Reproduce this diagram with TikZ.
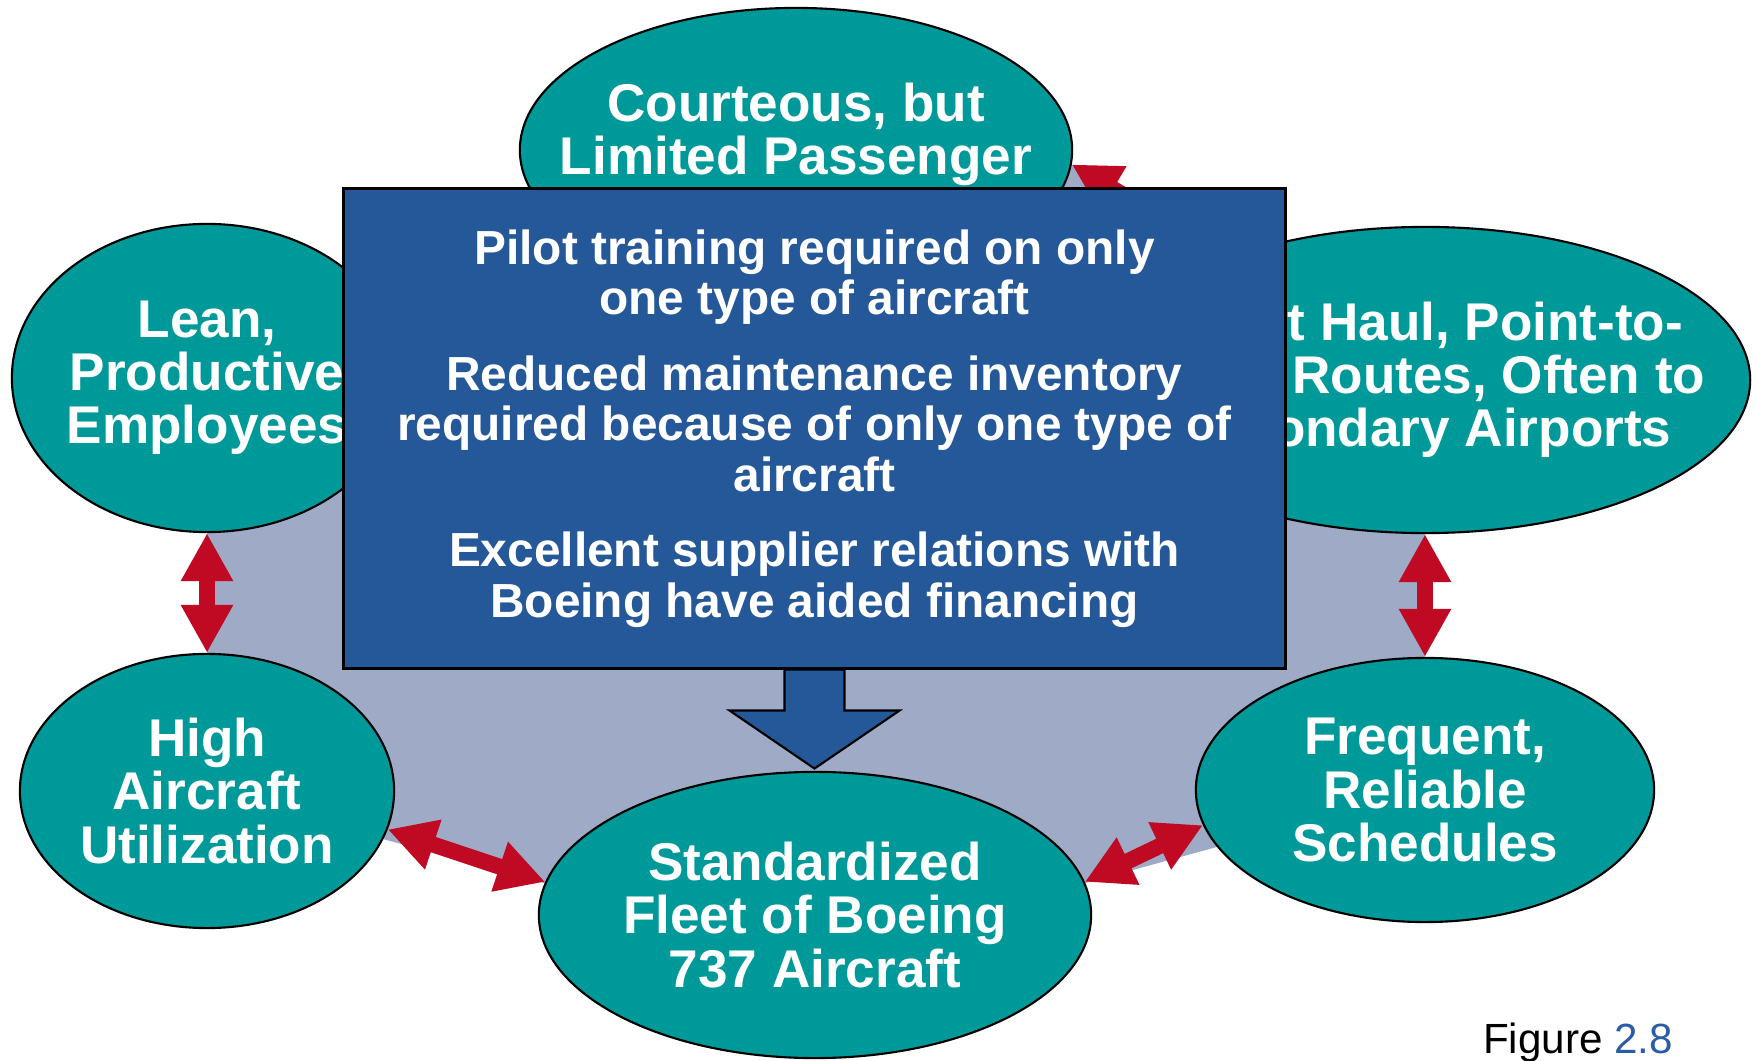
\documentclass[tikz,border=0pt]{standalone}
\usepackage{fontspec}
\setmainfont{Liberation Sans}
\usetikzlibrary{shapes.geometric, arrows.meta}

\definecolor{tealfill}{RGB}{0,153,153}
\definecolor{planblue}{RGB}{37,88,152}
\definecolor{backgray}{RGB}{158,170,198}
\definecolor{linkred}{RGB}{192,10,35}
\definecolor{figblue}{RGB}{42,92,168}

\begin{document}
\begin{tikzpicture}[
    x=0.01cm, y=-0.01cm,
    oval/.style={draw, line width=0.6pt, fill=tealfill, shape=ellipse, inner sep=0pt},
    ovaltext/.style={text=white, font=\fontsize{15.1}{15.1}\selectfont\bfseries, align=center, inner sep=0pt},
    plan/.style={draw, line width=0.8pt, fill=planblue, text=white, font=\fontsize{13.6}{14.4}\selectfont\bfseries, align=center},
    twoway/.style={draw=linkred, line width=0.16cm, {Triangle[width=0.49cm, length=0.48cm]}-{Triangle[width=0.49cm, length=0.48cm]}},
    push/.style={draw, line width=0.6pt, fill=planblue},
    backdrop/.style={fill=backgray}
]
    \useasboundingbox (0, 0) rectangle (1754, 1061);

    % CENTRES OF THE OVALS
    \coordinate (c_courteous) at (796, 150);
    \coordinate (c_lean) at (207, 378);
    \coordinate (c_routes) at (1425, 380);
    \coordinate (c_high) at (207, 791);
    \coordinate (c_fleet) at (815, 915);
    \coordinate (c_sched) at (1425, 790);

    % BACKDROP behind the ovals
    \fill[backdrop] (c_lean) -- (900, 60) -- (c_routes) -- (c_sched) -- (815, 957) -- (c_high) -- cycle;

    % OVALS
    \node (courteous) at (c_courteous) [oval, minimum width=5.52cm, minimum height=2.84cm] {};
    \node (lean) at (c_lean) [oval, minimum width=3.9cm, minimum height=3.08cm] {};
    \node (routes) at (c_routes) [oval, minimum width=6.5cm, minimum height=3.06cm] {};
    \node (high) at (c_high) [oval, minimum width=3.74cm, minimum height=2.74cm] {};
    \node (fleet) at (c_fleet) [oval, minimum width=5.52cm, minimum height=2.86cm] {};
    \node (sched) at (c_sched) [oval, minimum width=4.58cm, minimum height=2.64cm] {};

    % TEXTS OF THE OVALS
    \node (courteous_txt) at (796, 156) [ovaltext] {Courteous, but\\Limited Passenger\\Service};
    \node (lean_txt) at (lean) [ovaltext] {Lean,\\Productive\\Employees};
    \node (routes_txt) at (routes) [ovaltext] {Short Haul, Point-to-\\Point Routes, Often to\\Secondary Airports};
    \node (high_txt) at (high) [ovaltext] {High\\Aircraft\\Utilization};
    \node (fleet_txt) at (fleet) [ovaltext] {Standardized\\Fleet of Boeing\\737 Aircraft};
    \node (sched_txt) at (sched) [ovaltext] {Frequent,\\Reliable\\Schedules};

    % Links between the ovals
    \draw[twoway] (lean) -- (high);
    \draw[twoway] (routes) -- (sched);
    \draw[twoway] (high.-12) -- (fleet.173);
    \draw[twoway] (fleet.7) -- (sched.189);
    \draw[twoway] (courteous.-3) -- (routes.148);

    % CENTRAL BOX
    \node (plan) at (814.5, 428.5) [plan, minimum width=9.41cm, minimum height=4.79cm] {Pilot training required on only\\one type of aircraft\\[7pt]Reduced maintenance inventory\\required because of only one type of\\aircraft\\[7pt]Excellent supplier relations with\\Boeing have aided financing};
    \draw[push] (plan.south) ++(-30, 0) -- ++(0, 41) -- ++(-55, 0) -- ++(85, 58) -- ++(85, -58) -- ++(-55, 0) -- ++(0, -41) -- cycle;

    % caption
    \node (fig_label) at (1578, 1053) [anchor=base, font=\fontsize{12}{14}\selectfont] {Figure \textcolor{figblue}{2.8}};
\end{tikzpicture}
\end{document}
